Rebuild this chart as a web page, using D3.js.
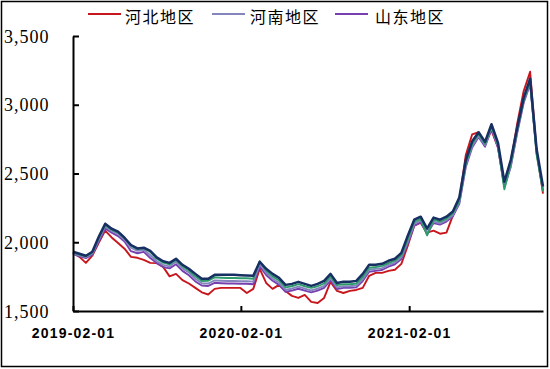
<!DOCTYPE html>
<html><head><meta charset="utf-8">
<script src="https://cdn.jsdelivr.net/npm/d3@7"></script>
<style>
body{margin:0;background:#fff;}
svg{display:block;}
</style></head>
<body>
<svg id="chart" width="550" height="369"></svg>
<script>
const dates = ["2019-02-01","2019-02-15","2019-03-01","2019-03-15","2019-03-29","2019-04-12","2019-04-26","2019-05-10","2019-05-24","2019-06-07","2019-06-21","2019-07-05","2019-07-19","2019-08-02","2019-08-16","2019-08-30","2019-09-13","2019-09-27","2019-10-11","2019-10-25","2019-11-08","2019-11-22","2019-12-06","2019-12-20","2020-01-03","2020-01-17","2020-01-31","2020-02-14","2020-02-28","2020-03-13","2020-03-27","2020-04-10","2020-04-24","2020-05-08","2020-05-22","2020-06-05","2020-06-19","2020-07-03","2020-07-17","2020-07-31","2020-08-14","2020-08-28","2020-09-11","2020-09-25","2020-10-09","2020-10-23","2020-11-06","2020-11-20","2020-12-04","2020-12-18","2021-01-01","2021-01-15","2021-01-29","2021-02-12","2021-02-26","2021-03-12","2021-03-26","2021-04-09","2021-04-23","2021-05-07","2021-05-21","2021-06-04","2021-06-18","2021-07-02","2021-07-16","2021-07-30","2021-08-13","2021-08-27","2021-09-10","2021-09-24","2021-10-08","2021-10-22","2021-11-05","2021-11-19"];

const hebei = [1923,1894,1850,1902,1996,2085,2035,1995,1953,1894,1887,1872,1850,1848,1821,1752,1770,1725,1700,1668,1636,1620,1661,1668,1668,1668,1668,1631,1661,1807,1704,1661,1690,1646,1610,1595,1617,1566,1558,1595,1712,1646,1631,1646,1653,1668,1756,1777,1777,1792,1800,1843,1975,2120,2142,2070,2084,2062,2070,2194,2303,2632,2785,2800,2715,2814,2690,2413,2580,2865,3100,3240,2668,2354];
const shandong = [1915,1898,1885,1910,2005,2100,2070,2045,2005,1935,1920,1930,1885,1850,1820,1810,1840,1792,1760,1715,1685,1682,1705,1702,1700,1700,1698,1698,1695,1825,1762,1720,1690,1640,1648,1662,1648,1636,1648,1668,1722,1660,1668,1668,1672,1718,1785,1792,1798,1822,1840,1878,1990,2120,2145,2060,2140,2128,2150,2188,2280,2545,2690,2765,2695,2825,2690,2400,2550,2795,3015,3150,2650,2375];
const henan = [1920,1905,1892,1918,2020,2115,2082,2060,2018,1960,1938,1945,1905,1862,1835,1825,1858,1810,1780,1735,1702,1700,1722,1720,1718,1718,1716,1716,1714,1842,1778,1735,1705,1655,1662,1678,1662,1650,1662,1682,1738,1672,1680,1680,1685,1732,1800,1806,1812,1835,1852,1890,2005,2135,2158,2068,2150,2138,2160,2198,2290,2560,2700,2775,2705,2835,2700,2410,2560,2805,3025,3160,2660,2385];
const greenSeries = [1925,1910,1898,1925,2030,2125,2092,2070,2030,1975,1950,1958,1930,1880,1852,1840,1872,1825,1795,1752,1718,1720,1745,1742,1740,1740,1738,1738,1735,1862,1795,1752,1722,1672,1680,1695,1680,1668,1680,1700,1752,1688,1695,1695,1700,1748,1815,1820,1828,1848,1866,1905,2020,2150,2170,2050,2165,2150,2172,2210,2300,2570,2715,2790,2715,2845,2710,2385,2570,2815,3035,3170,2640,2370];
const navySeries = [1931,1916,1902,1931,2040,2135,2099,2077,2033,1980,1955,1960,1938,1890,1862,1850,1880,1836,1807,1770,1734,1734,1763,1763,1763,1763,1760,1758,1756,1858,1807,1770,1741,1690,1697,1712,1697,1683,1697,1719,1770,1704,1712,1712,1719,1770,1836,1836,1843,1865,1880,1923,2048,2164,2186,2099,2179,2164,2186,2223,2325,2595,2734,2800,2730,2858,2725,2440,2600,2835,3050,3190,2680,2405];

const legendNames = ["河北地区","河南地区","山东地区"];
const xTickLabels = ["2019-02-01","2020-02-01","2021-02-01"];
const yTicks = [1500,2000,2500,3000,3500];

const parse = d3.timeParse("%Y-%m-%d");
const xDates = dates.map(parse);

const series = [
  {name:"河北地区", values:hebei, color:"#c8161d", width:1.9},
  {name:"山东地区", values:shandong, color:"#7640b0", width:1.9},
  {name:"河南地区", values:henan, color:"#8485bd", width:1.9},
  {name:"", values:greenSeries, color:"#2e9a6c", width:1.9},
  {name:"", values:navySeries, color:"#172f62", width:2.5}
];

const svg = d3.select("#chart");

svg.append("rect").attr("x",1.5).attr("y",1.5).attr("width",546).attr("height",365)
  .attr("fill","none").attr("stroke","#000").attr("stroke-width",1.5);

const x = d3.scaleTime().domain([xDates[0], xDates[xDates.length-1]]).range([73, 543]);
const y = d3.scaleLinear().domain([1500, 3500]).range([311, 36]);

const line = d3.line().x((d,i)=>x(xDates[i])).y(d=>y(d));
series.forEach(s=>{
  svg.append("path").datum(s.values)
    .attr("fill","none").attr("stroke",s.color).attr("stroke-width",s.width)
    .attr("stroke-linejoin","round")
    .attr("d",line);
});

const yAxis = svg.append("g").attr("transform","translate(73,0)")
  .call(d3.axisLeft(y).tickValues(yTicks).tickSizeInner(-6).tickSizeOuter(0).tickFormat(d3.format(",")));
yAxis.select(".domain").attr("stroke","#000").attr("stroke-width",2);
yAxis.selectAll(".tick line").attr("stroke","#000").attr("stroke-width",2);
yAxis.selectAll(".tick text").attr("x",-69).attr("text-anchor","start")
  .attr("dy","0.34em")
  .style("font-family","'Liberation Serif','DejaVu Serif',serif").style("font-size","18px")
  .style("letter-spacing","1px").attr("fill","#000");

const xAxis = svg.append("g").attr("transform","translate(0,311)")
  .call(d3.axisBottom(x).tickValues(xTickLabels.map(parse)).tickSizeInner(-5).tickSizeOuter(0)
    .tickPadding(17).tickFormat(d3.timeFormat("%Y-%m-%d")));
xAxis.select(".domain").attr("stroke","#000").attr("stroke-width",2);
xAxis.selectAll(".tick line").attr("stroke","#000").attr("stroke-width",2);
xAxis.selectAll(".tick text")
  .style("font-family","'Liberation Sans',Arial,sans-serif").style("font-size","14px")
  .style("font-weight","bold").style("letter-spacing","1.2px").attr("fill","#000");

const legendPos = [{lx:88, tx:125},{lx:212, tx:250},{lx:335, tx:375}];
const legendColors = {"河北地区":"#c8161d","河南地区":"#8485bd","山东地区":"#7640b0"};
legendNames.forEach((n,i)=>{
  const p = legendPos[i];
  svg.append("line").attr("x1",p.lx).attr("x2",p.lx+33).attr("y1",14).attr("y2",14)
    .attr("stroke",legendColors[n]).attr("stroke-width",2);
  svg.append("text").attr("x",p.tx).attr("y",20).attr("dominant-baseline","middle")
    .text(n).attr("fill","#000")
    .style("font-family","'Noto Sans CJK SC',sans-serif").style("font-size","16px")
    .style("letter-spacing","1.5px").attr("dy","-0.1em");
});
</script>
</body></html>
